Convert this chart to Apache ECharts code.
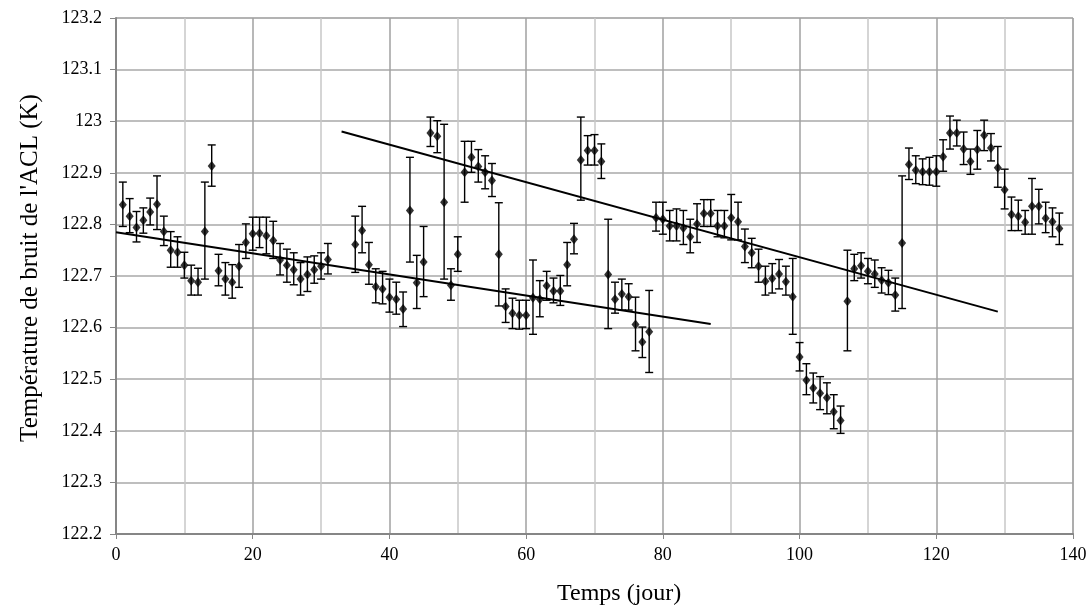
<!DOCTYPE html>
<html>
<head>
<meta charset="utf-8">
<script src="https://cdn.jsdelivr.net/npm/echarts@6/dist/echarts.min.js"></script>
<style>
html,body{margin:0;padding:0;background:#fff;}
#chart{width:1092px;height:612px;}
</style>
</head>
<body>
<div id="chart"></div>
<script>
// ---- data ----
const days = [1,2,3,4,5,6,7,8,9,10,11,12,13,14,15,16,17,18,19,20,21,22,23,24,25,26,27,28,29,30,31,
  35,36,37,38,39,40,41,42,43,44,45,46,47,48,49,50,51,52,53,54,55,56,57,58,59,60,61,62,63,64,65,66,67,
  68,69,70,71,72,73,74,75,76,77,78,79,80,81,82,83,84,85,86,87,88,89,90,91,92,93,94,95,96,97,98,99,100,
  101,102,103,104,105,106,107,108,109,110,111,112,113,114,115,116,117,118,119,120,121,122,123,124,125,
  126,127,128,129,130,131,132,133,134,135,136,137,138];
const temps = [122.838,122.816,122.794,122.808,122.824,122.839,122.786,122.750,122.746,122.721,122.691,122.688,122.786,122.913,122.710,122.694,122.688,122.719,122.765,122.782,122.783,122.778,122.769,122.731,122.721,122.712,122.694,122.703,122.712,122.719,122.732,
  122.761,122.788,122.722,122.679,122.675,122.659,122.655,122.636,122.827,122.687,122.727,122.977,122.971,122.843,122.682,122.742,122.901,122.930,122.912,122.901,122.885,122.742,122.641,122.628,122.624,122.624,122.658,122.655,122.681,122.671,122.671,122.722,122.771,
  122.925,122.943,122.943,122.922,122.703,122.655,122.665,122.660,122.606,122.572,122.592,122.813,122.810,122.797,122.797,122.793,122.776,122.801,122.821,122.821,122.797,122.797,122.813,122.805,122.757,122.745,122.719,122.690,122.695,122.704,122.689,122.660,122.543,
  122.498,122.483,122.473,122.464,122.437,122.420,122.651,122.714,122.720,122.709,122.704,122.692,122.687,122.663,122.764,122.916,122.905,122.902,122.902,122.902,122.931,122.977,122.977,122.946,122.922,
  122.945,122.973,122.948,122.910,122.867,122.819,122.816,122.804,122.835,122.835,122.812,122.805,122.792];
const errHigh = [122.882,122.850,122.825,122.832,122.851,122.894,122.816,122.786,122.776,122.746,122.721,122.715,122.882,122.954,122.742,122.726,122.722,122.761,122.801,122.814,122.814,122.814,122.806,122.763,122.752,122.745,122.726,122.737,122.739,122.745,122.763,
  122.816,122.835,122.765,122.714,122.709,122.694,122.688,122.669,122.930,122.740,122.796,123.008,123.001,122.994,122.714,122.776,122.961,122.961,122.945,122.933,122.918,122.842,122.675,122.657,122.653,122.653,122.731,122.691,122.709,122.696,122.701,122.765,122.802,
  123.008,122.972,122.974,122.956,122.810,122.688,122.694,122.685,122.659,122.601,122.672,122.843,122.843,122.827,122.830,122.827,122.810,122.840,122.848,122.848,122.827,122.827,122.858,122.843,122.791,122.773,122.752,122.719,122.724,122.732,122.719,122.734,122.571,
  122.530,122.512,122.505,122.493,122.470,122.448,122.750,122.742,122.745,122.734,122.731,122.716,122.711,122.696,122.894,122.948,122.933,122.927,122.930,122.933,122.964,123.010,123.002,122.979,122.946,
  122.982,123.002,122.976,122.951,122.907,122.853,122.847,122.827,122.889,122.868,122.843,122.832,122.822];
const errLow = [122.796,122.784,122.766,122.783,122.799,122.790,122.759,122.717,122.717,122.696,122.663,122.663,122.694,122.874,122.681,122.663,122.657,122.678,122.734,122.750,122.755,122.743,122.734,122.702,122.688,122.683,122.663,122.670,122.686,122.694,122.704,
  122.707,122.745,122.684,122.648,122.646,122.630,122.626,122.602,122.727,122.637,122.660,122.951,122.939,122.694,122.653,122.709,122.843,122.901,122.882,122.869,122.854,122.642,122.610,122.598,122.597,122.598,122.587,122.621,122.653,122.648,122.643,122.681,122.743,
  122.847,122.915,122.915,122.889,122.598,122.628,122.634,122.634,122.555,122.542,122.513,122.787,122.781,122.768,122.768,122.761,122.745,122.765,122.796,122.796,122.776,122.774,122.770,122.770,122.726,122.716,122.688,122.663,122.667,122.675,122.663,122.587,122.516,
  122.470,122.454,122.441,122.433,122.404,122.395,122.555,122.691,122.696,122.685,122.678,122.667,122.664,122.632,122.637,122.887,122.879,122.877,122.876,122.874,122.903,122.946,122.952,122.916,122.897,
  122.907,122.943,122.923,122.872,122.830,122.788,122.788,122.781,122.781,122.801,122.784,122.776,122.761];
const trend1X = [0, 87];
const trend1Y = [122.785, 122.607];
const trend2X = [33, 129];
const trend2Y = [122.980, 122.631];
const xTicks = {min: 0, max: 140, step: 20};
const yTicks = {min: 122.2, max: 123.2, step: 0.1};
const xTitle = 'Temps (jour)';
const yTitle = "Température de bruit de l'ACL (K)";

// ---- build chart ----
const FONT = '"Liberation Serif", "Times New Roman", serif';
const points = days.map((d, i) => [d, temps[i]]);
const bars = days.map((d, i) => [d, errLow[i], errHigh[i]]);
const t1 = trend1X.map((x, i) => [x, trend1Y[i]]);
const t2 = trend2X.map((x, i) => [x, trend2Y[i]]);

const chart = echarts.init(document.getElementById('chart'), null, {renderer: 'canvas'});
chart.setOption({
  animation: false,
  backgroundColor: '#ffffff',
  grid: {left: 116, right: 19, top: 18, bottom: 78, show: true, borderColor: '#a6a6a6', borderWidth: 1, containLabel: false},
  xAxis: {
    type: 'value', min: xTicks.min, max: xTicks.max, interval: xTicks.step,
    axisLine: {show: true, onZero: false, lineStyle: {color: '#868686', width: 2}},
    axisTick: {show: true, inside: false, length: 5, lineStyle: {color: '#868686', width: 1}},
    axisLabel: {color: '#000', fontFamily: FONT, fontSize: 18, margin: 12},
    splitLine: {show: true, lineStyle: {color: '#a0a0a0', width: 1.5}},
    minorTick: {show: false, splitNumber: 2},
    minorSplitLine: {show: true, lineStyle: {color: '#c8c8c8', width: 1.5}}
  },
  yAxis: {
    type: 'value', min: yTicks.min, max: yTicks.max, interval: yTicks.step,
    axisLine: {show: true, onZero: false, lineStyle: {color: '#868686', width: 2}},
    axisTick: {show: true, inside: false, length: 6, lineStyle: {color: '#868686', width: 1}},
    axisLabel: {color: '#000', fontFamily: FONT, fontSize: 18, margin: 14,
      formatter: v => String(parseFloat(Number(v).toFixed(1)))},
    splitLine: {show: true, lineStyle: {color: '#a8a8a8', width: 1.5}}
  },
  graphic: [
    {type: 'text', left: 557, top: 582, style: {text: xTitle, font: '24px ' + FONT, fill: '#000'}},
    {type: 'text', x: 30, y: 268, rotation: Math.PI / 2,
      style: {text: yTitle, font: '25px ' + FONT, fill: '#000', textAlign: 'center', textVerticalAlign: 'middle'}}
  ],
  series: [
    {
      type: 'custom', name: 'err', data: bars, clip: true, z: 3,
      encode: {x: 0, y: [1, 2]},
      renderItem: function (params, api) {
        const x = api.value(0);
        const lo = api.coord([x, api.value(1)]);
        const hi = api.coord([x, api.value(2)]);
        const hw = 4;
        const st = {stroke: '#000', lineWidth: 1.4};
        return {type: 'group', children: [
          {type: 'line', shape: {x1: lo[0], y1: lo[1], x2: hi[0], y2: hi[1]}, style: st},
          {type: 'line', shape: {x1: hi[0] - hw, y1: hi[1], x2: hi[0] + hw, y2: hi[1]}, style: st},
          {type: 'line', shape: {x1: lo[0] - hw, y1: lo[1], x2: lo[0] + hw, y2: lo[1]}, style: st}
        ]};
      }
    },
    {
      type: 'scatter', name: 'temp', data: points, symbol: 'diamond', symbolSize: [8, 10], z: 4,
      itemStyle: {color: '#000'}
    },
    {
      type: 'line', name: 'trend1', data: t1, showSymbol: false, z: 5,
      lineStyle: {color: '#000', width: 2}
    },
    {
      type: 'line', name: 'trend2', data: t2, showSymbol: false, z: 5,
      lineStyle: {color: '#000', width: 2}
    }
  ]
});
</script>
</body>
</html>
